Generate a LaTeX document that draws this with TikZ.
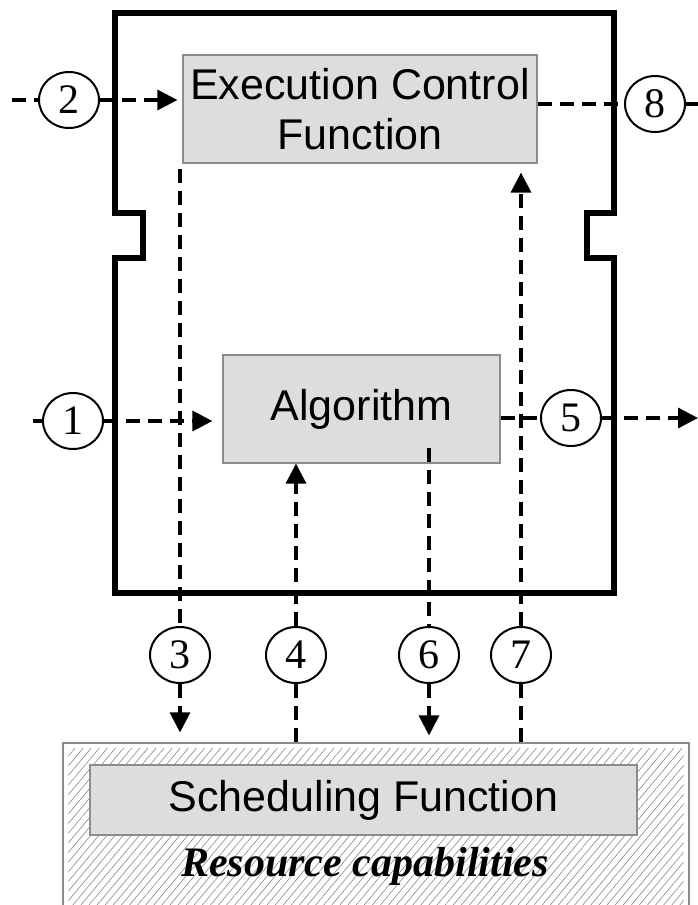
\documentclass[tikz,border=0pt]{standalone}
\usepackage{fontspec}
\usetikzlibrary{arrows.meta,shapes.geometric,patterns.meta}
\newfontfamily\arialfont{Liberation Sans}
\newfontfamily\timesfont{Liberation Serif}
\definecolor{boxgray}{RGB}{221,221,221}
\definecolor{edgegray}{RGB}{140,140,140}
\definecolor{hatchgray}{RGB}{135,135,135}

\begin{document}
\begin{tikzpicture}[x=1pt,y=-1pt,>={Triangle[length=20pt,width=20pt]},
  fn/.style={draw=edgegray,line width=1.2pt,fill=boxgray,inner sep=0pt,
    font=\arialfont\fontsize{43}{50}\selectfont,align=center},
  tag/.style={ellipse,draw,line width=2pt,inner sep=0pt,minimum width=60pt,
    minimum height=56pt,font=\timesfont\fontsize{42}{42}\selectfont},
  flow/.style={line width=3.4pt,dash pattern=on 14pt off 8pt}]
  \clip (0,0) rectangle (698,905);
  % resource layer
  \node (res) [draw=edgegray,line width=1.2pt,minimum width=626pt,minimum height=200pt,
    inner sep=0pt] at (376,843) {};
  \fill[pattern={Lines[angle=50,distance=6.2pt,line width=0.6pt]},pattern color=hatchgray]
    ([shift={(6,6)}]res.north west) rectangle ([shift={(-6,0)}]res.south east);
  \node (sched) [fn,minimum width=547pt,minimum height=70pt] at (363.5,800) {Scheduling Function};
  \node (cap) [font=\timesfont\bfseries\itshape\fontsize{42}{42}\selectfont] at (365,866) {Resource capabilities};
  % the block
  \draw[line width=5.5pt] (115,13) -- (614,13) -- (614,213) -- (587,213) -- (587,258) -- (614,258)
    -- (614,593) -- (115,593) -- (115,258) -- (143,258) -- (143,213) -- (115,213) -- cycle;
  \node (ecf) [fn,minimum width=354pt,minimum height=108pt] at (360,109) {Execution Control\\Function};
  \node (alg) [fn,minimum width=277pt,minimum height=108pt] at (361.5,409) {Algorithm};
  % numbered flows
  \node (c1) [tag] at (73,421) {1};
  \node (c2) [tag] at (69,100) {2};
  \node (c3) [tag] at (180,655) {3};
  \node (c4) [tag] at (296,655) {4};
  \node (c5) [tag] at (571,418) {5};
  \node (c6) [tag] at (429,655) {6};
  \node (c7) [tag] at (521,655) {7};
  \node (c8) [tag] at (655,104) {8};
  \coordinate (in1) at (33,421);
  \coordinate (in2) at (12,100);
  \coordinate (out5) at (698,418);
  \coordinate (out8) at (698,104);
  \path (alg.south -| c6) ++(0,-16) coordinate (s6);

  \draw[flow] (in1) -- (c1);
  \draw[flow,->,shorten >=10pt] (c1) -- (alg.west |- c1);
  \draw[flow] (in2) -- (c2);
  \draw[flow,->,shorten >=5pt] (c2) -- (ecf.west |- c2);
  \draw[flow,shorten <=5pt] (ecf.south -| c3) -- (c3);
  \draw[flow,->,shorten >=10pt] (c3) -- (res.north -| c3);
  \draw[flow] (res.north -| c4) -- (c4);
  \draw[flow,->] (c4) -- (alg.south -| c4);
  \draw[flow] (alg.east |- c5) -- (c5);
  \draw[flow,->] (c5) -- (out5);
  \draw[flow] (s6) -- (c6);
  \draw[flow,->,shorten >=7pt] (c6) -- (res.north -| c6);
  \draw[flow] (res.north -| c7) -- (c7);
  \draw[flow,->,shorten >=9pt] (c7) -- (ecf.south -| c7);
  \draw[flow] (ecf.east |- c8) -- (c8);
  \draw[flow] (c8) -- (out8);
\end{tikzpicture}
\end{document}
